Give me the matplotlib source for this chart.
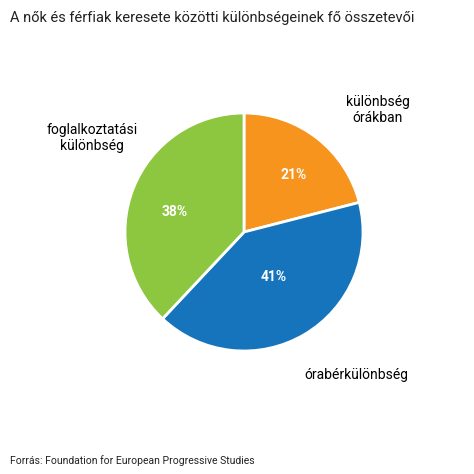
import matplotlib.pyplot as plt

plt.rcParams['font.family'] = ['Roboto', 'DejaVu Sans']

labels = ['különbség\nórákban', 'órabérkülönbség', 'foglalkoztatási\nkülönbség']
values = [21, 41, 38]
colors = ['#F7941D', '#1574BB', '#8DC63F']

W = 474
fig = plt.figure(figsize=(4.74, 4.74), dpi=100)
cx, cy, r = 244, 232, 119
ax = fig.add_axes([(cx - r) / W, 1 - (cy + r) / W, 2 * r / W, 2 * r / W])
wedges, texts = ax.pie(values, colors=colors, startangle=90, counterclock=False,
                       radius=1.0, wedgeprops=dict(edgecolor='white', linewidth=2))
# percentage labels inside slices
for pos, v in zip([(0.42, 0.48), (0.25, -0.38), (-0.58, 0.17)], values):
    ax.text(pos[0], pos[1], f'{v}%', color='white', fontsize=10, fontweight='bold',
            ha='center', va='center')
ax.set_xlim(-1, 1)
ax.set_ylim(-1, 1)
ax.set_aspect('equal')
ax.axis('off')

fig.text(378 / W, 1 - 110 / W, labels[0], ha='center', va='center', fontsize=10, linespacing=1.2)
fig.text(356 / W, 1 - 375 / W, labels[1], ha='center', va='center', fontsize=10)
fig.text(92 / W, 1 - 138 / W, labels[2], ha='center', va='center', fontsize=10, linespacing=1.2)

fig.text(10 / W, 1 - 18 / W, 'A nők és férfiak keresete közötti különbségeinek fő összetevői',
         ha='left', va='center', fontsize=10.5, color='#222222')
fig.text(10 / W, 1 - 461 / W, 'Forrás: Foundation for European Progressive Studies',
         ha='left', va='center', fontsize=7.5, color='#222222')

fig.savefig('out.png', dpi=100, facecolor='white')
